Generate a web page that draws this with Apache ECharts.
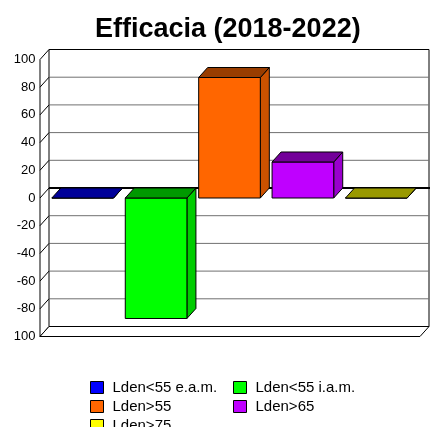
<!DOCTYPE html>
<html>
<head>
<meta charset="utf-8">
<script src="https://cdn.jsdelivr.net/npm/echarts@6/dist/echarts.min.js"></script>
<style>
  html, body { margin: 0; padding: 0; background: #fff; }
  #chart { width: 430px; height: 427px; }
</style>
</head>
<body>
<div id="chart"></div>
<script>
const categories = ['Lden<55 e.a.m.', 'Lden<55 i.a.m.', 'Lden>55', 'Lden>65', 'Lden>75'];
const values = [0, -87, 87, 26, 0];
const colors = ['#0000ff', '#00ff00', '#ff6600', '#bf00ff', '#ffff00'];
const yTicks = [-100, -80, -60, -40, -20, 0, 20, 40, 60, 80, 100];

// depth offset of the fake 3d
const DX = 9, DY = -10;

function shade(hex, k) {
  const n = parseInt(hex.slice(1), 16);
  const r = Math.round(((n >> 16) & 255) * k);
  const g = Math.round(((n >> 8) & 255) * k);
  const b = Math.round((n & 255) * k);
  return 'rgb(' + r + ',' + g + ',' + b + ')';
}

const chart = echarts.init(document.getElementById('chart'));

// walls, floor and gridlines
function renderFrame(params, api) {
  const cs = params.coordSys;
  const fl = cs.x - 6, fr = cs.x + cs.width + 7;
  const ft = cs.y, fb = cs.y + cs.height;
  const bl = fl + DX, br = fr + DX;
  const kids = [];
  kids.push({ type: 'rect', shape: { x: bl, y: ft + DY, width: br - bl, height: fb - ft },
    style: { fill: '#fff', stroke: '#000', lineWidth: 1 } });
  yTicks.forEach(function (v) {
    const y = api.coord([0, v])[1];
    if (v !== 0 && v !== -100 && v !== 100) {
      kids.push({ type: 'line', shape: { x1: bl, y1: y + DY, x2: br, y2: y + DY },
        style: { stroke: '#707070', lineWidth: 1 } });
    }
    kids.push({ type: 'line', shape: { x1: fl, y1: y, x2: fl + DX, y2: y + DY },
      style: { stroke: '#000', lineWidth: 1 } });
  });
  const y0 = api.coord([0, 0])[1] + DY;
  kids.push({ type: 'line', shape: { x1: bl, y1: y0, x2: 430, y2: y0 },
    style: { stroke: '#000', lineWidth: 2 } });
  kids.push({ type: 'polygon', shape: { points: [[fl, fb], [fr, fb], [br, fb + DY], [bl, fb + DY]] },
    style: { fill: '#fff', stroke: '#000', lineWidth: 1 } });
  kids.push({ type: 'line', shape: { x1: fl, y1: ft, x2: fl, y2: fb },
    style: { stroke: '#000', lineWidth: 1 } });
  return { type: 'group', children: kids };
}

function makeBar(idx) {
  const base = colors[idx];
  return function (params, api) {
    const c = api.coord([api.value(0), 0]);
    const p = api.coord([api.value(0), api.value(1)]);
    const w = api.size([1, 0])[0] * 0.84;
    const x0 = c[0] - w / 2, x1 = c[0] + w / 2;
    const top = Math.min(c[1], p[1]), bot = Math.max(c[1], p[1]);
    const line = { stroke: '#000', lineWidth: 1 };
    return { type: 'group', children: [
      { type: 'polygon', shape: { points: [[x1, top], [x1 + DX, top + DY], [x1 + DX, bot + DY], [x1, bot]] },
        style: Object.assign({ fill: shade(base, 0.8) }, line) },
      { type: 'rect', shape: { x: x0, y: top, width: w, height: bot - top },
        style: Object.assign({ fill: base }, line) },
      { type: 'polygon', shape: { points: [[x0, top], [x1, top], [x1 + DX, top + DY], [x0 + DX, top + DY]] },
        style: Object.assign({ fill: shade(base, 0.6) }, line) }
    ] };
  };
}

const series = [{
  type: 'custom',
  silent: true,
  renderItem: renderFrame,
  data: [[0, 0]],
  z: 1
}];
categories.forEach(function (name, i) {
  series.push({
    type: 'custom',
    name: name,
    itemStyle: { color: colors[i] },
    renderItem: makeBar(i),
    data: [[i, values[i]]],
    z: 2
  });
});

const legendBase = {
  orient: 'vertical',
  padding: 0,
  height: 80,
  itemWidth: 13,
  itemHeight: 12,
  itemGap: 4,
  icon: 'rect',
  itemStyle: { borderColor: '#000', borderWidth: 1 },
  textStyle: { fontFamily: 'Liberation Sans', fontSize: 15, color: '#000', padding: [0, 0, 0, 4] },
  selectedMode: false
};

const option = {
  animation: false,
  backgroundColor: '#fff',
  textStyle: { fontFamily: 'Liberation Sans' },
  title: {
    text: 'Efficacia (2018-2022)',
    left: 95,
    top: 16,
    padding: 0,
    textStyle: { fontFamily: 'Liberation Sans', fontSize: 27, fontWeight: 'bold', color: '#000' }
  },
  legend: [
    Object.assign({ left: 90, top: 380, data: [categories[0], categories[2], categories[4]] }, legendBase),
    Object.assign({ left: 233, top: 380, data: [categories[1], categories[3]] }, legendBase)
  ],
  grid: { left: 46, right: 17, top: 59.5, bottom: 90.5 },
  xAxis: {
    type: 'category',
    data: categories,
    show: false
  },
  yAxis: {
    type: 'value',
    min: -100,
    max: 100,
    interval: 20,
    axisLine: { show: false },
    axisTick: { show: false },
    splitLine: { show: false },
    axisLabel: {
      margin: 10.5,
      fontSize: 13,
      color: '#000',
      fontFamily: 'Liberation Sans',
      formatter: function (v) { return v === -100 ? '100' : String(v); }
    }
  },
  series: series
};

chart.setOption(option);
</script>
</body>
</html>
